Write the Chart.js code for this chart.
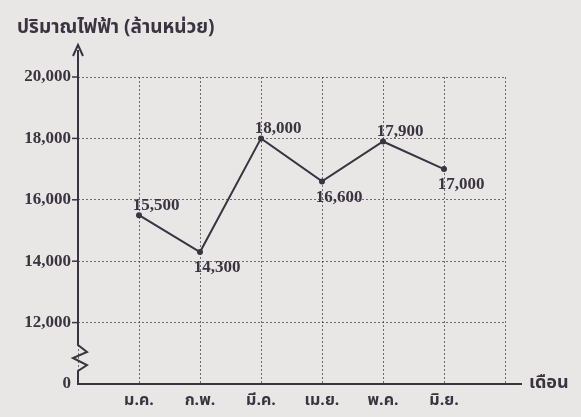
<!DOCTYPE html>
<html><head><meta charset="utf-8">
<script src="https://cdn.jsdelivr.net/npm/chart.js@4/dist/chart.umd.min.js"></script>
<style>html,body{margin:0;padding:0;background:#e9e7e6;}#wrap{width:581px;height:417px;position:relative;}</style>
</head><body><div id="wrap"><canvas id="c" width="581" height="417"></canvas></div>
<script>
const months = ['ม.ค.', 'ก.พ.', 'มี.ค.', 'เม.ย.', 'พ.ค.', 'มิ.ย.'];
const values = [15500, 14300, 18000, 16600, 17900, 17000];
const yTicks = [10000, 12000, 14000, 16000, 18000, 20000];
const labelPos = ['above', 'below', 'above', 'below', 'above', 'below'];
const yTitle = 'ปริมาณไฟฟ้า (ล้านหน่วย)';
const xTitle = 'เดือน';

const INK = '#3a3340';
const SERIF = '"Liberation Serif","DejaVu Serif",serif';
const NUMFONT = 'bold 17px ' + SERIF;
const THAIFONT = '"Noto Sans Thai","Noto Sans","DejaVu Sans",sans-serif';
const fmt = v => v === 10000 ? '0' : v.toLocaleString('en-US');

const deco = {
  id: 'deco',
  beforeDraw(chart) {
    const ctx = chart.ctx;
    ctx.save();
    ctx.fillStyle = '#e9e7e6';
    ctx.fillRect(0, 0, chart.width, chart.height);
    ctx.restore();
  },
  afterDatasetsDraw(chart) {
    const ctx = chart.ctx;
    const xs = chart.scales.x, ys = chart.scales.y;
    const x0 = xs.getPixelForValue(0), yb = ys.getPixelForValue(10000);
    ctx.save();
    ctx.strokeStyle = INK; ctx.fillStyle = INK; ctx.lineWidth = 2; ctx.lineJoin = 'miter';
    // y axis with break
    ctx.beginPath();
    ctx.moveTo(x0, 50); ctx.lineTo(x0, 345);
    ctx.lineTo(x0 + 9, 352);
    ctx.lineTo(x0 - 5, 358);
    ctx.lineTo(x0 + 9, 365);
    ctx.lineTo(x0, 371);
    ctx.lineTo(x0, yb);
    ctx.stroke();
    // arrow
    ctx.beginPath();
    ctx.moveTo(x0 - 5, 56); ctx.lineTo(x0, 45); ctx.lineTo(x0 + 5, 56);
    ctx.stroke();
    // x axis
    ctx.beginPath();
    ctx.moveTo(x0 - 1, yb); ctx.lineTo(522, yb); ctx.stroke();
    // y tick marks
    ctx.lineWidth = 1.5;
    yTicks.slice(1).forEach(v => {
      const y = ys.getPixelForValue(v);
      ctx.beginPath(); ctx.moveTo(x0 - 6, y); ctx.lineTo(x0, y); ctx.stroke();
    });
    // titles
    ctx.font = 'bold 19px ' + THAIFONT;
    ctx.textBaseline = 'middle'; ctx.textAlign = 'left';
    ctx.fillText(yTitle, 17, 29);
    ctx.font = 'bold 18px ' + THAIFONT;
    ctx.fillText(xTitle, 529, yb);
    // value labels
    ctx.font = NUMFONT; ctx.textAlign = 'center';
    const meta = chart.getDatasetMeta(0);
    meta.data.forEach((pt, i) => {
      const dy = labelPos[i] === 'above' ? -10 : 16;
      ctx.fillText(values[i].toLocaleString('en-US'), pt.x + 17, pt.y + dy);
    });
    ctx.restore();
  }
};

new Chart(document.getElementById('c'), {
  type: 'line',
  data: {
    datasets: [{
      data: values.map((v, i) => ({x: i + 1, y: v})),
      borderColor: INK, backgroundColor: INK, borderWidth: 2,
      pointRadius: 3, pointBackgroundColor: INK, pointBorderWidth: 0,
      tension: 0
    }]
  },
  options: {
    responsive: false, animation: false,
    layout: {padding: {top: 77, right: 76, left: 0, bottom: 0}},
    plugins: {legend: {display: false}, tooltip: {enabled: false}},
    scales: {
      x: {
        type: 'linear', min: 0, max: 7,
        afterFit(s) { s.height = 33; },
        border: {display: false, dash: [2, 2]},
        grid: {color: 'rgba(58,51,64,0.7)', lineWidth: 1, drawTicks: false},
        ticks: {
          stepSize: 1, padding: 8, color: INK, maxRotation: 0,
          font: {family: THAIFONT, size: 16, weight: 'bold'},
          callback: v => (v >= 1 && v <= months.length) ? months[v - 1] : ''
        }
      },
      y: {
        type: 'linear', min: 10000, max: 20000,
        afterFit(s) { s.width = 78; },
        afterBuildTicks(s) { s.ticks = yTicks.map(v => ({value: v})); },
        border: {display: false, dash: [2, 2]},
        grid: {color: 'rgba(58,51,64,0.7)', lineWidth: 1, drawTicks: false},
        ticks: {
          padding: 7, color: INK,
          font: {family: SERIF, size: 17, weight: 'bold'},
          callback: v => fmt(v)
        }
      }
    }
  },
  plugins: [deco]
});
</script></body></html>
